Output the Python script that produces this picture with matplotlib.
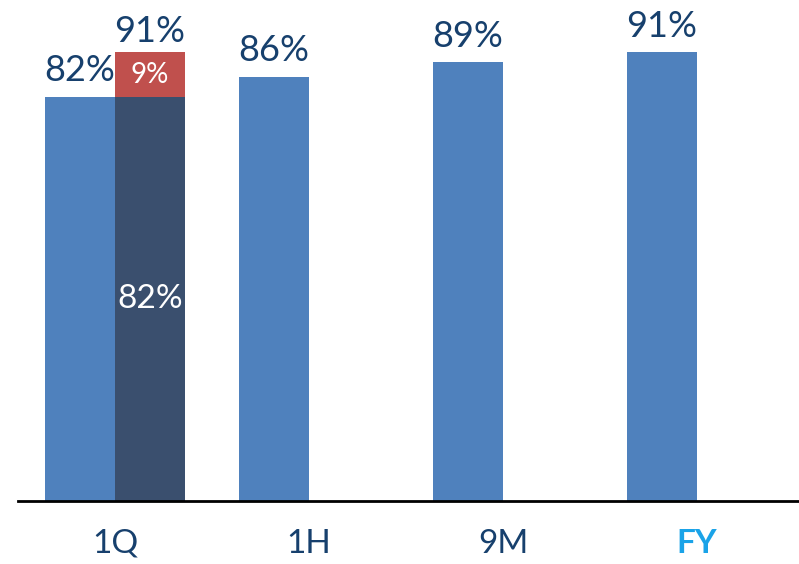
import matplotlib.pyplot as plt
import numpy as np

plt.rcParams['font.family'] = ['Lato', 'DejaVu Sans']

periods = ['1Q', '1H', '9M', 'FY']
rate = [82, 86, 89, 91]
# 1Q breakdown bar (second bar in first group)
base_1q = 82
extra_1q = 9
total_1q = 91

blue = '#4F81BD'
navy = '#3A4F6E'
red = '#C0504D'
txt = '#17406D'

fig = plt.figure(figsize=(7.99, 5.64), dpi=100)
ax = fig.add_axes([18 / 799, 0.1117, 781 / 799, 0.874])

x = np.arange(len(periods))
w = 0.36

ax.bar(x - w / 2, rate, w, color=blue)
ax.bar(x[0] + w / 2, base_1q, w, color=navy)
ax.bar(x[0] + w / 2, extra_1q, w, bottom=base_1q, color=red)

for xi, v in zip(x, rate):
    ax.annotate(f'{v}%', (xi - w / 2, v), xytext=(0, 7), textcoords='offset points',
                ha='center', va='bottom', fontsize=26, color=txt)

ax.annotate(f'{total_1q}%', (x[0] + w / 2, base_1q + extra_1q), xytext=(0, 3),
            textcoords='offset points', ha='center', va='bottom', fontsize=26, color=txt)
ax.text(x[0] + w / 2, base_1q + extra_1q / 2, f'{extra_1q}%', ha='center', va='center',
        fontsize=20, color='white')
ax.text(x[0] + w / 2, base_1q * 0.5, f'{base_1q}%', ha='center', va='center',
        fontsize=24, color='white')

ax.set_xlim(-0.5, 3.526)
ax.set_ylim(0, 100)
ax.set_xticks(x)
ax.set_xticklabels(periods, fontsize=24, color=txt)
ax.get_xticklabels()[-1].set_color('#1AA3E8')
ax.get_xticklabels()[-1].set_fontweight('bold')
ax.tick_params(axis='x', length=0, pad=20)
ax.set_yticks([])
for s in ['top', 'right', 'left']:
    ax.spines[s].set_visible(False)
ax.spines['bottom'].set_linewidth(2)
ax.spines['bottom'].set_color('black')

plt.savefig('out.png', dpi=100)
